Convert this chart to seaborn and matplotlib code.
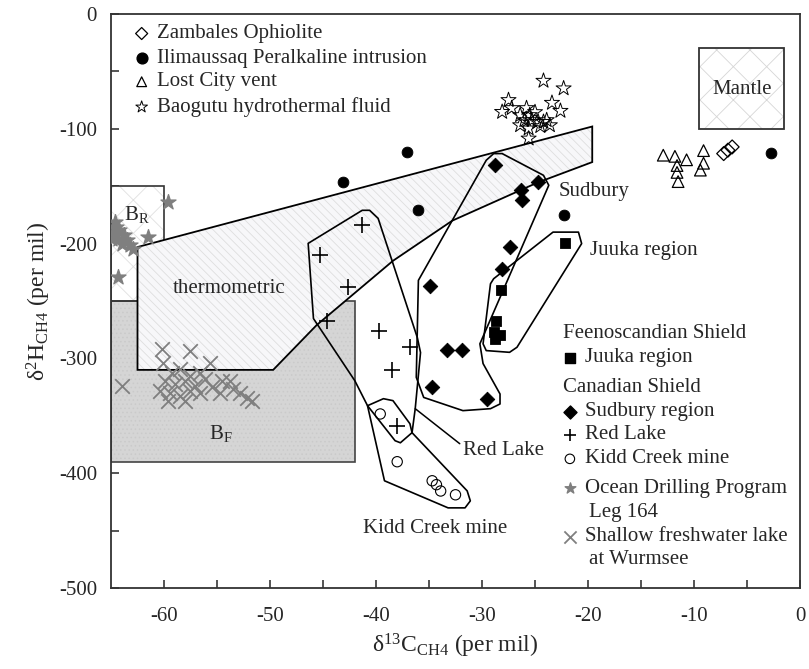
import numpy as np
import pandas as pd
import matplotlib.pyplot as plt
from matplotlib.patches import Polygon, Rectangle
import seaborn as sns

sns.set_style("white")
plt.rcParams.update({
    "font.family":        ["Liberation Serif", "DejaVu Serif"],
    "mathtext.fontset":   "custom",
    "mathtext.rm":        "Liberation Serif",
    "mathtext.it":        "Liberation Serif:italic",
    "font.size":          15,
    "hatch.linewidth":    0.6,
    "axes.unicode_minus": False,
})

# ── data: delta13C (x), delta2H (y), per mil ────────────────────────────────
zambales_x = [-7.2, -6.8, -6.4]
zambales_y = [-121.6, -118.6, -115.8]

ilim_x = [-43.1, -37.1, -36.0, -22.3, -2.7]
ilim_y = [-146.6, -120.2, -171.0, -175.4, -121.0]

lost_x = [-12.9, -11.8, -10.7, -9.1, -9.1, -11.6, -11.6, -9.4, -11.5]
lost_y = [-123.0, -124.0, -127.0, -119.0, -130.0, -132.0, -138.0, -136.0, -146.0]

baog_x = [-24.2, -22.3, -27.5, -28.1, -23.4, -22.6, -26.4, -25.8, -25.5, -25.3, -24.8,
          -24.2, -23.6, -26.4, -25.6, -25.6, -23.9, -27.2, -26.0, -25.0, -24.5]
baog_y = [-58.2, -64.8, -75.0, -85.3, -77.4, -84.4, -88.1, -82.0, -88.1, -92.5, -94.0,
          -94.0, -96.9, -96.9, -99.7, -108.5, -92.5, -82.0, -92.5, -85.5, -97.7]

juuka_x = [-22.2, -28.2, -28.7, -28.9, -28.3, -28.8]
juuka_y = [-199.5, -240.8, -267.6, -277.0, -280.0, -283.0]

sudbury_x = [-28.8, -24.7, -26.3, -26.2, -27.4, -28.1, -34.9, -33.3, -31.9, -34.7, -29.5]
sudbury_y = [-131.8, -146.3, -153.6, -162.3, -203.0, -222.0, -236.5, -293.0, -292.6, -325.2, -335.3]

redlake_x = [-41.3, -45.3, -42.6, -44.65, -39.7, -36.8, -38.5, -38.0]
redlake_y = [-184.0, -210.3, -238.0, -267.0, -276.3, -289.7, -310.0, -358.6]

kidd_x = [-39.6, -38.0, -34.7, -34.3, -33.9, -32.5]
kidd_y = [-348.4, -390.0, -406.6, -410.0, -415.5, -418.8]

odp_x = [-59.6, -64.6, -64.5, -64.8, -64.2, -63.8, -64.3, -63.5, -63.2, -64.0, -62.9,
         -64.9, -61.5, -64.3]
odp_y = [-163.8, -181.2, -185.6, -190.0, -188.5, -192.8, -195.7, -197.2, -201.6, -200.0,
         -204.5, -195.7, -194.3, -229.2]

wurm_x = [-60.2, -57.5, -55.7, -64.0, -60.1, -59.2, -58.5, -57.5, -56.6, -59.9, -59.0,
          -58.0, -57.1, -56.1, -60.4, -59.4, -58.5, -57.5, -56.6, -55.5, -54.5, -53.8,
          -54.7, -53.5, -52.8, -52.2, -51.7, -59.6, -58.0]
wurm_y = [-291.7, -293.2, -303.7, -323.7, -303.7, -312.4, -308.9, -315.0, -312.4, -319.4,
          -322.0, -319.4, -323.7, -317.6, -328.1, -329.8, -332.5, -328.1, -329.8, -324.6,
          -319.4, -319.4, -329.8, -326.4, -329.8, -334.2, -336.8, -336.8, -336.8]

# ── genetic fields (outline vertices) ───────────────────────────────────────
THERMO = [(-62.5, -203), (-62.5, -310), (-49.7, -310), (-45.6, -271), (-38.4, -215),
          (-32.8, -180), (-24.8, -147), (-19.6, -129), (-19.6, -98)]
MANTLE = (-9.5, -100, 8, 70)
B_R = (-65, -250, 5, 100)
B_F = (-65, -390, 23, 140)

SUDBURY_POLY = [(-28.9, -121.6), (-28.1, -121.6), (-24.2, -140.5), (-23.7, -149.2),
                (-30.2, -287.3), (-29.9, -304.5), (-28.3, -331), (-28.3, -339.7),
                (-29.2, -343.8), (-31.8, -345.5), (-35.5, -334), (-36.2, -316.5),
                (-36.0, -232), (-29.6, -127.4)]
JUUKA_POLY = [(-23.3, -190), (-20.9, -190), (-20.6, -200), (-26.7, -290.3), (-27.4, -294.7),
              (-29.6, -293.2), (-29.9, -287.3), (-29.2, -235), (-28.9, -230.6)]
REDLAKE_POLY = [(-46.4, -199.8), (-41.3, -171), (-40.6, -171), (-39.8, -178), (-36.1, -281.9),
                (-35.8, -294.9), (-36.3, -343.8), (-36.6, -364.7), (-37.7, -373.5),
                (-38.2, -371.7), (-40.8, -341.2), (-42.0, -319.4), (-45.9, -265.3)]
KIDD_POLY = [(-40.8, -341.2), (-39.3, -335.1), (-38.4, -336.8), (-36.8, -356.9), (-36.6, -364.7),
             (-31.4, -415.4), (-31.1, -424.1), (-31.6, -430.2), (-33.2, -430.2), (-39.2, -406.6)]
REDLAKE_LEADER = ([-36.3, -32.1], [-343.8, -374.3])

# marker styles per group
ST = {
    "zambales": dict(marker="D", s=50, facecolor="none", edgecolor="black", linewidth=0.9),
    "ilim":     dict(marker="o", s=60, color="black", edgecolor="black"),
    "lost":     dict(marker="^", s=70, facecolor="none", edgecolor="black", linewidth=0.9),
    "baog":     dict(marker="*", s=130, facecolor="none", edgecolor="black", linewidth=0.7),
    "juuka":    dict(marker="s", s=55, color="black", edgecolor="black"),
    "sudbury":  dict(marker="D", s=55, color="black", edgecolor="black"),
    "redlake":  dict(marker="+", s=140, color="black", linewidth=1.2),
    "kidd":     dict(marker="o", s=55, facecolor="none", edgecolor="black", linewidth=0.8),
    "odp":      dict(marker="*", s=130, color="#7f7f7f", edgecolor="#7f7f7f"),
    "wurm":     dict(marker="x", s=110, color="#7f7f7f", linewidth=1.3),
}
LEG_SCALE = {"zambales": 0.75, "ilim": 1.0, "lost": 0.7, "baog": 0.6, "juuka": 0.9,
             "sudbury": 0.8, "redlake": 0.6, "kidd": 0.85, "odp": 0.5, "wurm": 0.7}

fig = plt.figure(figsize=(8.09, 6.69), dpi=100)
ax = fig.add_axes([111 / 809, 1 - 588 / 669, 689 / 809, 574 / 669])

# fields
ax.add_patch(Rectangle(B_F[:2], B_F[2], B_F[3], facecolor="#d5d5d5", edgecolor="#cacaca",
                       hatch="....", lw=0, zorder=1))
ax.add_patch(Rectangle(B_F[:2], B_F[2], B_F[3], facecolor="none", edgecolor="#444444",
                       lw=1.2, zorder=1.5))
ax.add_patch(Rectangle(B_R[:2], B_R[2], B_R[3], facecolor="white", edgecolor="#e0e0e0",
                       hatch="x", lw=0, zorder=1))
ax.add_patch(Rectangle(B_R[:2], B_R[2], B_R[3], facecolor="none", edgecolor="#333333",
                       lw=1.2, zorder=1.5))
ax.add_patch(Polygon(THERMO, closed=True, facecolor="#f7f7f9", edgecolor="#dedede",
                     hatch="\\\\\\\\", lw=0, zorder=2))
ax.add_patch(Polygon(THERMO, closed=True, facecolor="none", edgecolor="black", lw=1.3, zorder=2.5))
ax.add_patch(Rectangle(MANTLE[:2], MANTLE[2], MANTLE[3], facecolor="white", edgecolor="#d6d6d6",
                       hatch="x", lw=0, zorder=1))
ax.add_patch(Rectangle(MANTLE[:2], MANTLE[2], MANTLE[3], facecolor="none", edgecolor="#333333",
                       lw=1.3, zorder=1.5))

for poly in [SUDBURY_POLY, JUUKA_POLY, REDLAKE_POLY, KIDD_POLY]:
    ax.add_patch(Polygon(poly, closed=True, facecolor="none", edgecolor="black",
                         lw=1.2, joinstyle="round", zorder=3))
ax.plot(*REDLAKE_LEADER, color="black", lw=1.1, zorder=3)

# data points
groups = [
    ("zambales", zambales_x, zambales_y), ("ilim", ilim_x, ilim_y),
    ("lost", lost_x, lost_y), ("baog", baog_x, baog_y),
    ("juuka", juuka_x, juuka_y), ("sudbury", sudbury_x, sudbury_y),
    ("redlake", redlake_x, redlake_y), ("kidd", kidd_x, kidd_y),
    ("odp", odp_x, odp_y), ("wurm", wurm_x, wurm_y),
]
for key, xs, ys in groups:
    df = pd.DataFrame({"d13C": xs, "d2H": ys})
    sns.scatterplot(data=df, x="d13C", y="d2H", ax=ax, zorder=4, legend=False, **ST[key])

# field / cluster labels
ax.text(-62.6, -175, r"B$_{\mathrm{R}}$", ha="center", va="center", zorder=5)
ax.text(-54.6, -365, r"B$_{\mathrm{F}}$", ha="center", va="center", zorder=5)
ax.text(-53.9, -239.5, "thermometric", ha="center", va="center", zorder=5)
ax.text(-5.5, -66, "Mantle", ha="center", va="center", zorder=5)
ax.text(-22.8, -155, "Sudbury", ha="left", va="center", zorder=5)
ax.text(-19.8, -206, "Juuka region", ha="left", va="center", zorder=5)
ax.text(-31.8, -380, "Red Lake", ha="left", va="center", zorder=5)
ax.text(-34.4, -448, "Kidd Creek mine", ha="center", va="center", zorder=5)

# hand-built legends (axes fraction)
def leg_item(key, x_sym, x_txt, y, label):
    kw = dict(ST[key])
    kw["s"] = kw["s"] * LEG_SCALE[key]
    ax.scatter([x_sym], [y], transform=ax.transAxes, clip_on=False, zorder=5, **kw)
    ax.text(x_txt, y, label, transform=ax.transAxes, ha="left", va="center")

for key, y, label in [("zambales", 0.966, "Zambales Ophiolite"),
                      ("ilim", 0.923, "Ilimaussaq Peralkaline intrusion"),
                      ("lost", 0.882, "Lost City vent"),
                      ("baog", 0.838, "Baogutu hydrothermal fluid")]:
    leg_item(key, 0.0445, 0.0663, y, label)

ax.text(0.656, 0.444, "Feenoscandian Shield", transform=ax.transAxes, ha="left", va="center")
ax.text(0.656, 0.350, "Canadian Shield", transform=ax.transAxes, ha="left", va="center")
for key, y, label in [("juuka", 0.401, "Juuka region"),
                      ("sudbury", 0.307, "Sudbury region"),
                      ("redlake", 0.267, "Red Lake"),
                      ("kidd", 0.225, "Kidd Creek mine"),
                      ("odp", 0.174, "Ocean Drilling Program"),
                      ("wurm", 0.089, "Shallow freshwater lake")]:
    leg_item(key, 0.666, 0.688, y, label)
ax.text(0.694, 0.132, "Leg 164", transform=ax.transAxes, ha="left", va="center")
ax.text(0.694, 0.049, "at Wurmsee", transform=ax.transAxes, ha="left", va="center")

# axes
ax.set_xlim(-65, 0)
ax.set_ylim(-500, 0)
ax.set_xticks(np.arange(-60, 1, 10))
ax.set_xticks(np.arange(-60, 0, 5), minor=True)
ax.set_yticks(np.arange(-500, 1, 100))
ax.set_yticks(np.arange(-450, 0, 50), minor=True)
ax.tick_params(axis="both", which="both", direction="in", length=6, width=1.1,
               top=False, right=False, bottom=True, left=True)
ax.tick_params(axis="x", pad=14)
ax.tick_params(axis="y", pad=10)
for sp in ax.spines.values():
    sp.set_color("#333333")
    sp.set_linewidth(1.3)
ax.set_xlabel("δ$^{13}$C$_{\\mathrm{CH4}}$ (per mil)", fontsize=17, labelpad=4)
ax.set_ylabel("δ$^{2}$H$_{\\mathrm{CH4}}$ (per mil)", fontsize=17, labelpad=4)

fig.savefig("out.png", dpi=100)
